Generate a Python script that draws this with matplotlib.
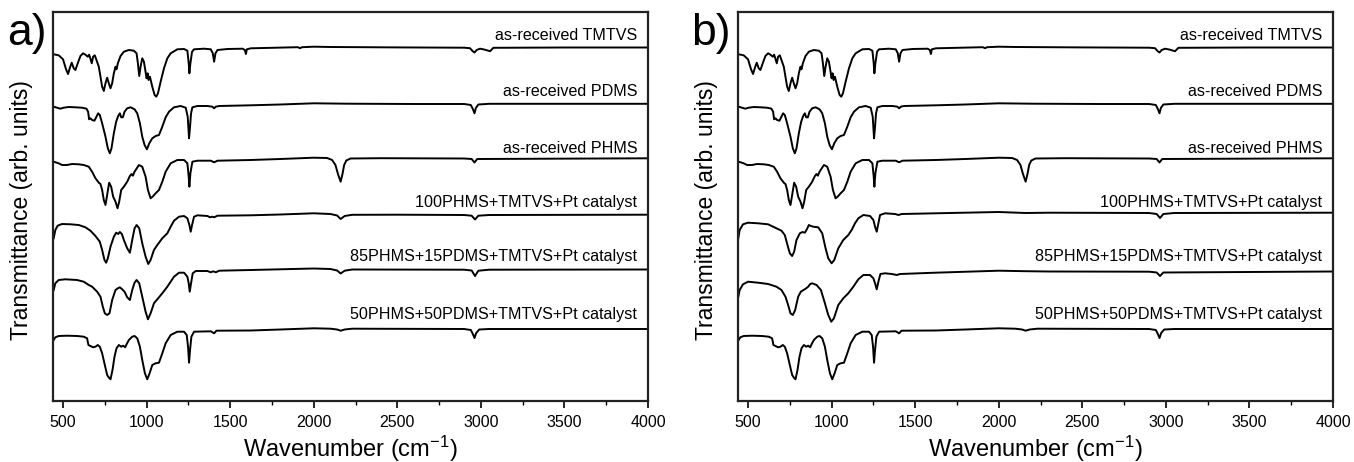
import matplotlib
matplotlib.use("Agg")
import matplotlib.pyplot as plt
from matplotlib.ticker import MultipleLocator

plt.rcParams['font.family'] = ['Liberation Sans', 'DejaVu Sans']
plt.rcParams['mathtext.fontset'] = 'custom'
plt.rcParams['mathtext.rm'] = 'Liberation Sans'
plt.rcParams['mathtext.default'] = 'regular'

# ---------------- data (wavenumber in cm-1, transmittance in arb. units, offset) ----------------
tmtvs_wn = [444, 474, 500, 518, 530, 542, 552, 564, 574, 588, 604, 620, 634, 648, 656, 664, 672, 680,
            690, 700, 714, 724, 734, 744, 754, 764, 774, 784, 794, 804, 814, 820, 828, 844, 864, 894,
            924, 940, 948, 956, 964, 974, 984, 992, 1000, 1006, 1012, 1020, 1034, 1048, 1058, 1068,
            1084, 1104, 1124, 1144, 1184, 1224, 1244, 1252, 1256, 1262, 1272, 1284, 1344, 1384, 1396,
            1404, 1412, 1424, 1484, 1574, 1588, 1594, 1600, 1624, 1700, 1905, 1918, 1930, 2000, 2100,
            2500, 2900, 2935, 2950, 2962, 2975, 2995, 3020, 3040, 3055, 3075, 3500, 4000]
tmtvs_t = [347.7, 346.7, 342.7, 332.7, 328, 334.7, 339.3, 333.7, 332, 338.7, 346, 348.7, 347.3, 345.3,
           347.3, 343.3, 338.7, 345.3, 346.7, 342, 335.3, 325.3, 315.3, 311, 318.7, 324.3, 318.7, 313.7,
           318.7, 328.7, 335.3, 332.7, 338.7, 346, 350.3, 352, 351.3, 348.7, 338.7, 326, 335.3, 343.7,
           340.3, 332, 323.7, 328.7, 322, 325.3, 315.3, 307, 305.3, 308.7, 320.3, 333.7, 343.7, 348.7,
           352.7, 353, 351.3, 338.7, 328.7, 338.7, 350.3, 352.7, 353.3, 352.7, 348.7, 340.3, 348.7, 352,
           353, 353.3, 352, 348, 352.7, 353.7, 354, 354.8, 353.8, 354.8, 355.3, 355, 354.6, 354.3, 353.8,
           351, 349.5, 352, 353.3, 352.5, 351.5, 350.8, 354.2, 354.5, 354.5]

pdms_wn = [444, 464, 484, 504, 534, 574, 614, 640, 650, 656, 664, 674, 688, 700, 710, 720, 734, 754,
           768, 780, 790, 804, 818, 830, 840, 848, 858, 868, 884, 904, 928, 944, 960, 974, 988, 1002,
           1016, 1034, 1054, 1074, 1094, 1114, 1134, 1164, 1204, 1234, 1246, 1254, 1260, 1266, 1274,
           1304, 1364, 1394, 1404, 1414, 1434, 1624, 1800, 2000, 2200, 2600, 2900, 2940, 2952, 2962,
           2970, 2985, 3050, 4000]
pdms_t = [295.3, 294.3, 293.3, 294.3, 295, 294.7, 294.3, 293.3, 290.3, 282.7, 283.7, 282, 281.3, 285.3,
          288.7, 287, 278.7, 265.3, 253.7, 248.7, 253.7, 268.7, 280.3, 286, 288.7, 284.7, 284.7, 290.3,
          293.7, 294.7, 292.7, 288.7, 278.7, 265.3, 257, 252.7, 258.7, 263.7, 266, 267, 275.3, 284.7,
          290.3, 294.7, 296, 294.3, 285.3, 263.7, 275.3, 288.7, 294.7, 296, 296, 295.3, 293.7, 295.3,
          296, 296.7, 297.5, 298.7, 298.3, 298, 298, 297, 293, 288.7, 294, 297.5, 298.2, 298.2]

phms_wn = [444, 474, 494, 524, 554, 594, 624, 654, 674, 694, 714, 724, 734, 744, 754, 764, 776, 788,
           800, 814, 826, 836, 848, 864, 884, 900, 910, 918, 928, 954, 974, 994, 1008, 1024, 1036,
           1054, 1074, 1094, 1114, 1144, 1184, 1224, 1244, 1252, 1256, 1262, 1274, 1304, 1384, 1404,
           1424, 1624, 1800, 2000, 2080, 2110, 2130, 2145, 2161, 2172, 2182, 2195, 2220, 2400, 2900,
           2945, 2962, 2978, 4000]
phms_t = [240.3, 238.7, 237, 237, 238, 237.7, 237, 235.3, 230.3, 223.7, 219.3, 218, 212, 202, 197, 207,
          219.3, 215.3, 205.3, 200.3, 193.7, 200.3, 212, 215.3, 220.3, 226, 228, 226.3, 230.3, 237,
          235.3, 225.3, 212, 203.7, 205.3, 208.7, 212, 220.3, 230.3, 238.7, 242, 242, 238.7, 225.3,
          215.3, 228.7, 240.3, 241.3, 241.3, 239.7, 241.3, 242, 243, 244.3, 244, 242, 237, 228, 220.3,
          228, 237, 241.5, 243.5, 243.8, 243.5, 243, 239.5, 243, 243.7]

p100_a_wn = [444, 454, 468, 494, 544, 594, 634, 664, 694, 720, 734, 748, 758, 768, 784, 804, 818, 830,
             840, 852, 864, 884, 900, 914, 928, 940, 956, 974, 994, 1010, 1024, 1044, 1064, 1094, 1124,
             1144, 1164, 1194, 1224, 1244, 1256, 1264, 1272, 1284, 1304, 1364, 1380, 1394, 1404, 1424,
             1624, 1800, 2000, 2100, 2140, 2161, 2185, 2230, 2500, 2900, 2945, 2965, 2985, 3050, 4000]
p100_a_t = [163.7, 172, 176.3, 178, 177.7, 177, 174.7, 171.3, 166, 160.3, 152, 142, 139.3, 143.7, 155.3,
            165.3, 169.3, 168, 170, 168, 162, 153.7, 149.3, 162, 173.7, 177, 173.7, 158.7, 145.3, 138,
            142, 152, 157, 163.7, 168.7, 175.3, 181.3, 185.3, 186, 183.7, 177, 170.3, 177, 185.3, 186.7,
            186, 184.7, 185.3, 184.7, 186.3, 186.7, 187.5, 188.7, 188, 186.5, 183, 186, 187.2, 187.3,
            187, 186.3, 182.5, 186.3, 187, 187.3]

p85_a_wn = [444, 454, 474, 514, 584, 624, 654, 674, 704, 724, 738, 750, 764, 778, 794, 814, 828, 840,
            854, 868, 884, 900, 914, 928, 940, 956, 974, 994, 1008, 1024, 1044, 1064, 1094, 1124, 1144,
            1164, 1194, 1224, 1244, 1252, 1258, 1266, 1276, 1294, 1364, 1384, 1398, 1414, 1434, 1624,
            1800, 2000, 2100, 2140, 2161, 2185, 2230, 2900, 2945, 2965, 2985, 3050, 4000]
p85_a_t = [112, 118.7, 122, 122.7, 122, 120.3, 117, 115.3, 110.3, 105.3, 95.3, 88.7, 87, 88.7, 102, 112,
           113.7, 114.7, 112.7, 110.3, 104.7, 102, 112, 119.3, 122, 118.7, 105.3, 90.3, 82.7, 88.7, 98.7,
           102.7, 108.7, 115.3, 120.3, 125.3, 129.3, 129.3, 125.3, 118.7, 110.3, 118.7, 128.7, 131, 131,
           129.7, 130.7, 129.7, 131.3, 132, 132.7, 133.5, 133, 131.5, 128.5, 131.3, 132.5, 132.3, 131.5,
           126, 131.3, 132.3, 132.5]

p50_wn = [444, 454, 474, 524, 584, 624, 644, 652, 664, 680, 694, 708, 720, 734, 750, 764, 776, 784, 796,
          808, 820, 834, 848, 860, 872, 880, 894, 914, 928, 944, 960, 974, 990, 1004, 1018, 1034, 1054,
          1074, 1094, 1114, 1144, 1184, 1224, 1240, 1248, 1254, 1260, 1268, 1284, 1384, 1404, 1418, 1624,
          1800, 2000, 2100, 2140, 2161, 2185, 2230, 2900, 2940, 2952, 2962, 2972, 2990, 3050, 4000]
p50_t = [62, 64.7, 66, 66.3, 66, 65.3, 63.7, 57, 56, 54.7, 55.3, 57, 55.3, 48.7, 37, 27, 24, 22.7, 32,
         45.3, 53.7, 57, 55.3, 56.3, 54.7, 57.7, 62, 65.3, 66, 63.7, 55.3, 42, 28.7, 22.7, 28.7, 37, 38.7,
         39.3, 48.7, 58.7, 67, 70.3, 70.3, 67, 55.3, 39.3, 52, 65.3, 70.3, 70.7, 68.7, 71.3, 71.5, 72.5,
         73.7, 73.3, 72.5, 71.3, 72.5, 73.3, 73, 72, 68, 64, 69, 72.5, 73, 73]

p100_b_wn = [440, 450, 470, 500, 560, 620, 670, 700, 720, 736, 750, 764, 776, 790, 810, 826, 840, 852,
             864, 876, 890, 920, 944, 964, 980, 1000, 1016, 1040, 1070, 1100, 1120, 1140, 1160, 1190,
             1230, 1250, 1260, 1270, 1280, 1290, 1320, 1380, 1400, 1420, 1620, 2000, 2160, 2300, 2900,
             2945, 2965, 2985, 3050, 4000]
p100_b_t = [162, 172, 177.7, 179.3, 178.7, 177.7, 173.7, 171.3, 167, 157, 148.7, 146, 150.3, 162, 168.7,
            170, 169.3, 172.7, 177, 176, 175.3, 174.7, 168.7, 153.7, 143.7, 138.7, 142, 153.7, 162, 167,
            172, 178.7, 183.7, 187, 186, 182, 175.3, 170.3, 178.7, 187, 188.7, 188, 187, 188, 188.7, 190,
            189, 189.3, 189, 188, 184, 188, 189, 189.3]

p85_b_wn = [440, 450, 470, 500, 560, 620, 670, 700, 724, 740, 754, 768, 782, 800, 816, 832, 848, 860,
            872, 884, 910, 936, 960, 980, 998, 1014, 1040, 1070, 1100, 1130, 1160, 1190, 1230, 1250,
            1260, 1270, 1280, 1292, 1320, 1360, 1390, 1410, 1620, 2000, 2160, 2300, 2900, 2945, 2965,
            2985, 4000]
p85_b_t = [103.7, 112, 117.7, 120.3, 119.3, 118, 115.3, 112, 105.3, 97, 88.7, 87, 92, 105.3, 110.3, 112,
           113.7, 115.3, 118, 118.7, 117, 112, 98.7, 87, 80.3, 83.7, 97, 103.7, 108.7, 115.3, 122.7, 127,
           127, 123.7, 118.7, 112.7, 120.3, 128, 128.7, 128, 127, 128, 129.3, 131.3, 130.8, 130.5, 130.3,
           129.5, 126, 129.5, 130.5]

labels = ["as-received TMTVS", "as-received PDMS", "as-received PHMS",
          "100PHMS+TMTVS+Pt catalyst", "85PHMS+15PDMS+TMTVS+Pt catalyst",
          "50PHMS+50PDMS+TMTVS+Pt catalyst"]
label_y = [367, 310.3, 253.7, 199.3, 146, 87]

panel_a = [(tmtvs_wn, tmtvs_t), (pdms_wn, pdms_t), (phms_wn, phms_t),
           (p100_a_wn, p100_a_t), (p85_a_wn, p85_a_t), (p50_wn, p50_t)]
panel_b = [(tmtvs_wn, tmtvs_t), (pdms_wn, pdms_t), (phms_wn, phms_t),
           (p100_b_wn, p100_b_t), (p85_b_wn, p85_b_t), (p50_wn, p50_t)]

# ---------------- figure ----------------
fig = plt.figure(figsize=(13.54, 4.62), dpi=100)
W, H = 1354.0, 462.0
ax_a = fig.add_axes([53.0 / W, 1 - 401 / H, (648.0 - 53.0) / W, (401 - 12) / H])
ax_b = fig.add_axes([738.0 / W, 1 - 401 / H, (1333.0 - 738.0) / W, (401 - 12) / H])

for ax, curves, letter, lx in [(ax_a, panel_a, "a)", 7 / W), (ax_b, panel_b, "b)", 691 / W)]:
    for (wn, t), lab, ly in zip(curves, labels, label_y):
        ax.plot(wn, t, color="black", lw=1.4)
        ax.text(3935, ly, lab, ha="right", va="center", fontsize=11.6)
    ax.set_xlim(440, 4000)
    ax.set_ylim(1, 390)
    ax.set_yticks([])
    ax.xaxis.set_major_locator(MultipleLocator(500))
    ax.xaxis.set_minor_locator(MultipleLocator(250))
    ax.tick_params(axis="x", which="major", direction="out", length=5, width=1.2, labelsize=11.5, pad=5)
    ax.tick_params(axis="x", which="minor", direction="out", length=3, width=1.0)
    ax.tick_params(top=False, right=False)
    for s in ax.spines.values():
        s.set_linewidth(1.6)
        s.set_color("#222222")
    ax.set_xlabel(r"Wavenumber (cm$^{-1}$)", fontsize=17, labelpad=3)
    ax.set_ylabel("Transmittance (arb. units)", fontsize=16.5)
    ax.yaxis.set_label_coords(-0.034, 0.49)
    fig.text(lx, 0.972, letter, ha="left", va="top", fontsize=32)

fig.savefig("out.png", dpi=100)
